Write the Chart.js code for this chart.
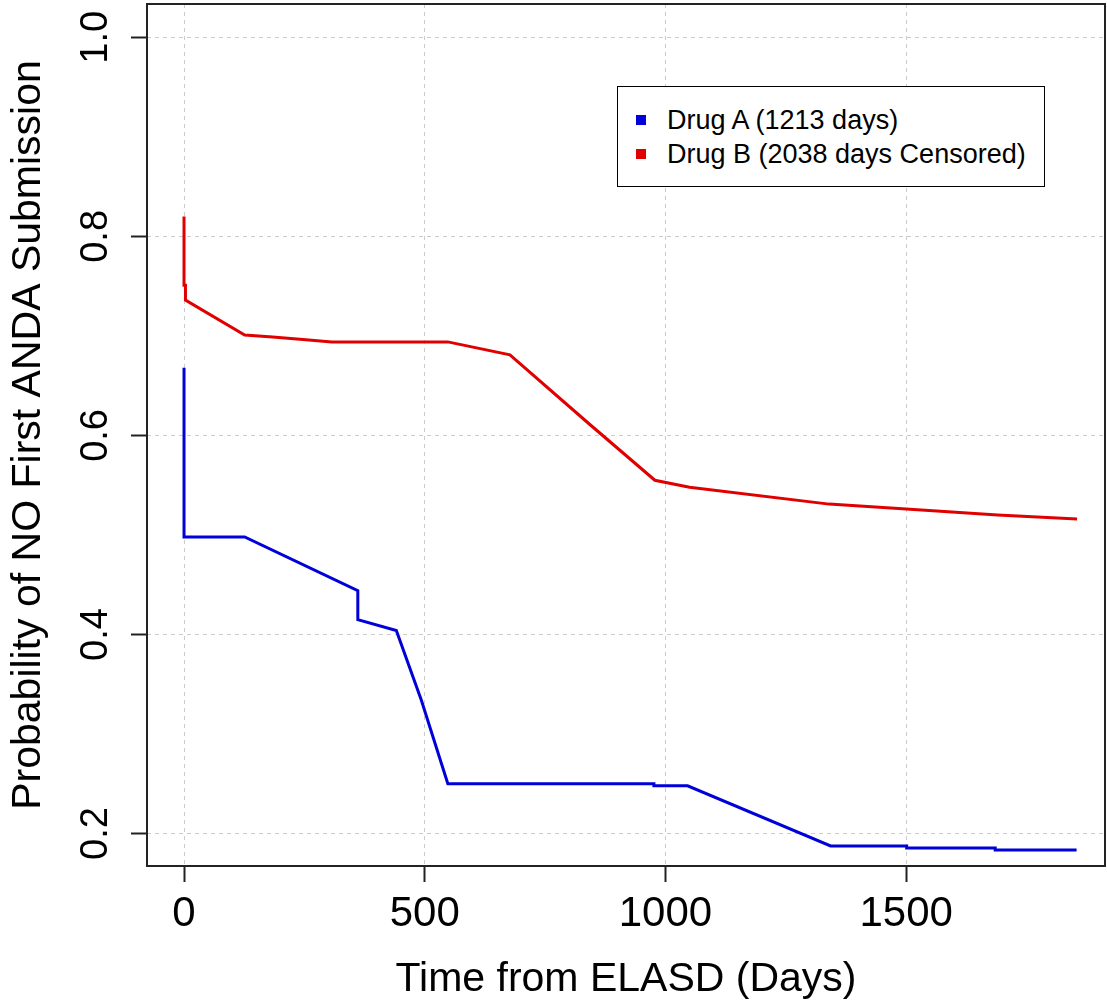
<!DOCTYPE html>
<html>
<head>
<meta charset="utf-8">
<title>Time to first ANDA submission</title>
<script src="https://cdn.jsdelivr.net/npm/chart.js@4.4.1/dist/chart.umd.min.js"></script>
<style>
  body { margin: 0; background: #fff; }
  #wrap { position: relative; width: 1107px; height: 1002px; }
  #legend {
    position: absolute; left: 617px; top: 86px; width: 428px; height: 101px;
    box-sizing: border-box; border: 1.5px solid #000; background: #fff;
    font-family: "Liberation Sans", Arial, sans-serif; font-size: 27px; color: #000;
  }
  #legend .row { position: absolute; left: 0; height: 30px; line-height: 30px; white-space: nowrap; }
  #legend .sq { position: absolute; left: 18px; top: 10px; width: 10px; height: 10px; }
  #legend .txt { position: absolute; left: 49px; top: 0; }
</style>
</head>
<body>
<div id="wrap">
  <canvas id="canvas" width="1107" height="1002"></canvas>
  <div id="legend"></div>
</div>
<script>
// Kaplan-Meier style curves
const seriesNames = ['Drug A (1213 days)', 'Drug B (2038 days Censored)'];
const seriesColors = ['#0000d8', '#e00000'];

const daysA = [0, 0, 126, 361, 361, 441, 493, 548, 976, 976, 1046, 1343, 1501, 1501, 1685, 1685, 1854];
const survA = [0.668, 0.498, 0.498, 0.444, 0.415, 0.404, 0.334, 0.250, 0.250, 0.248, 0.248, 0.1875, 0.1875, 0.1855, 0.1855, 0.1835, 0.1835];

const daysB = [0, 0, 3, 3, 126, 184, 247, 307, 548, 677, 843, 978, 1050, 1340, 1500, 1690, 1855];
const survB = [0.820, 0.751, 0.751, 0.736, 0.701, 0.699, 0.6965, 0.694, 0.694, 0.681, 0.611, 0.555, 0.548, 0.531, 0.526, 0.520, 0.516];

const xTicks = [0, 500, 1000, 1500];
const yTicks = [0.2, 0.4, 0.6, 0.8, 1.0];

Chart.defaults.font.family = '"Liberation Sans", Arial, sans-serif';
Chart.defaults.color = '#000';

const toPoints = (xs, ys) => xs.map((x, i) => ({ x: x, y: ys[i] }));

// box around the plot region, like R's bty="o"
const plotBox = {
  id: 'plotBox',
  afterDatasetsDraw(chart) {
    const a = chart.chartArea, ctx = chart.ctx;
    ctx.save();
    ctx.strokeStyle = '#222';
    ctx.lineWidth = 2;
    ctx.strokeRect(a.left, a.top, a.right - a.left, a.bottom - a.top);
    ctx.restore();
  }
};

const gridOpts = {
  color: '#cccccc',
  lineWidth: 1,
  drawTicks: true,
  tickLength: 16,
  tickColor: '#222',
  tickWidth: 2
};

var ctx = document.getElementById('canvas').getContext('2d');
var kmChart = new Chart(ctx, {
  type: 'line',
  data: {
    datasets: [
      { label: seriesNames[0], data: toPoints(daysA, survA), borderColor: seriesColors[0], backgroundColor: seriesColors[0] },
      { label: seriesNames[1], data: toPoints(daysB, survB), borderColor: seriesColors[1], backgroundColor: seriesColors[1] }
    ]
  },
  options: {
    responsive: false,
    animation: false,
    events: [],
    layout: { padding: { top: 4, right: 2, left: 0, bottom: 0 } },
    elements: {
      line: { borderWidth: 3, tension: 0, fill: false, borderCapStyle: 'butt', borderJoinStyle: 'miter' },
      point: { radius: 0 }
    },
    plugins: { legend: { display: false }, tooltip: { enabled: false } },
    scales: {
      x: {
        type: 'linear',
        min: -76.9,
        max: 1913,
        afterBuildTicks: s => { s.ticks = xTicks.map(v => ({ value: v })); },
        afterFit: s => { s.height = 136; s.paddingLeft = 0; s.paddingRight = 0; },
        ticks: {
          autoSkip: false, maxRotation: 0, padding: 7, color: '#000',
          font: { family: '"Liberation Sans Narrow", "Arial Narrow", "Liberation Sans", Arial', size: 42 },
          callback: v => String(v)
        },
        grid: gridOpts,
        border: { display: false, dash: [4, 4] },
        title: {
          display: true, text: 'Time from ELASD (Days)', color: '#000',
          font: { size: 41, lineHeight: 1 }, padding: { top: 0, bottom: 2 }
        }
      },
      y: {
        type: 'linear',
        min: 0.1674,
        max: 1.0335,
        afterBuildTicks: s => { s.ticks = yTicks.map(v => ({ value: v })); },
        afterFit: s => { s.width = 147; s.paddingTop = 0; s.paddingBottom = 0; },
        ticks: {
          autoSkip: false, minRotation: 90, maxRotation: 90, crossAlign: 'center', padding: 8, color: '#000',
          font: { size: 38 },
          callback: v => Number(v).toFixed(1)
        },
        grid: gridOpts,
        border: { display: false, dash: [4, 4] },
        title: {
          display: true, text: 'Probability of NO First ANDA Submission', color: '#000',
          font: { size: 41, lineHeight: 1 }, padding: { top: 8, bottom: 0 }
        }
      }
    }
  },
  plugins: [plotBox]
});

// legend box placed inside the plot, top right
var legend = document.getElementById('legend');
kmChart.data.datasets.forEach(function (ds, i) {
  var row = document.createElement('div');
  row.className = 'row';
  row.style.top = (17.5 + i * 34) + 'px';
  row.innerHTML = '<span class="sq" style="background:' + ds.borderColor + '"></span><span class="txt"></span>';
  row.querySelector('.txt').textContent = ds.label;
  legend.appendChild(row);
});
</script>
</body>
</html>
